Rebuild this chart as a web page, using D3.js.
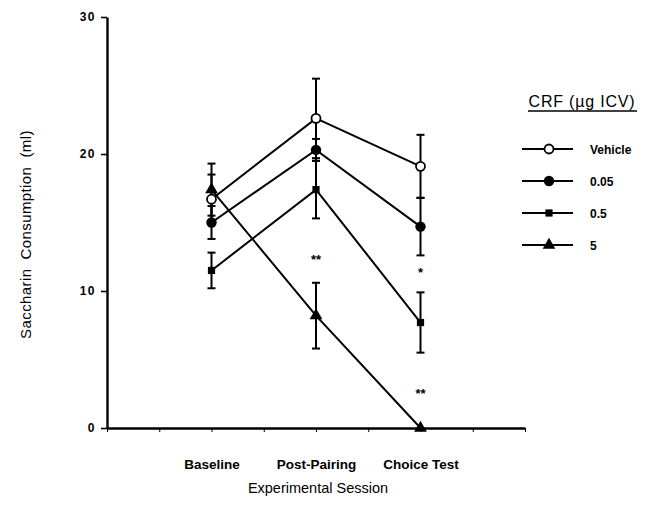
<!DOCTYPE html>
<html>
<head>
<meta charset="utf-8">
<script src="https://cdnjs.cloudflare.com/ajax/libs/d3/7.8.5/d3.min.js"></script>
<style>
  html, body { margin: 0; padding: 0; background: #fff; }
  svg { display: block; font-family: "Liberation Sans", Arial, Helvetica, sans-serif; }
</style>
</head>
<body>
<svg id="chart" width="646" height="524"></svg>
<script>
// ---- data ----
const sessions = ["Baseline", "Post-Pairing", "Choice Test"];
const sessionPos = [2, 4, 6];
const seriesNames = ["Vehicle", "0.05", "0.5", "5"];
const seriesShapes = ["openCircle", "circle", "square", "triangle"];
const vehicleMean = [16.7, 22.6, 19.1];
const vehicleErr = [1.8, 2.9, 2.3];
const dose005Mean = [15.0, 20.3, 14.7];
const dose005Err = [1.2, 0.8, 2.1];
const dose05Mean = [11.5, 17.4, 7.7];
const dose05Err = [1.3, 2.1, 2.2];
const dose5Mean = [17.4, 8.2, 0.0];
const dose5Err = [1.9, 2.4, 0.0];
const yTicks = [0, 10, 20, 30];
const xTicks = [0, 1, 2, 3, 4, 5, 6, 7, 8];
const sigMarks = [
  { pos: 4, value: 12.0, label: "**" },
  { pos: 6, value: 11.0, label: "*" },
  { pos: 6, value: 2.2, label: "**" }
];
const legendTitle = "CRF (\u00b5g ICV)";
const yTitle = "Saccharin  Consumption  (ml)";
const xTitle = "Experimental Session";

const series = [
  { name: seriesNames[0], shape: seriesShapes[0], mean: vehicleMean, err: vehicleErr },
  { name: seriesNames[1], shape: seriesShapes[1], mean: dose005Mean, err: dose005Err },
  { name: seriesNames[2], shape: seriesShapes[2], mean: dose05Mean, err: dose05Err },
  { name: seriesNames[3], shape: seriesShapes[3], mean: dose5Mean, err: dose5Err }
];

// ---- layout ----
const svg = d3.select("#chart");
svg.append("rect").attr("width", 646).attr("height", 524).attr("fill", "#fff");

const x = d3.scaleLinear().domain([0, 8]).range([107, 525]);
const y = d3.scaleLinear().domain([0, 30]).range([428, 17]);

// y axis
const yAxis = svg.append("g")
  .attr("transform", `translate(${x(0)},0)`)
  .call(d3.axisLeft(y).tickValues(yTicks).tickSize(6).tickPadding(5).tickSizeOuter(0));
yAxis.select(".domain").attr("stroke", "#000").attr("stroke-width", 2.4);
yAxis.selectAll(".tick line").attr("stroke", "#000").attr("stroke-width", 1.6);
yAxis.selectAll(".tick text")
  .attr("font-size", 12).attr("font-weight", "bold").attr("fill", "#000")
  .attr("letter-spacing", 1.5);

// x axis
const catLabel = d => { const i = sessionPos.indexOf(d); return i >= 0 ? sessions[i] : ""; };
const xAxis = svg.append("g")
  .attr("transform", `translate(0,${y(0)})`)
  .call(d3.axisBottom(x).tickValues(xTicks).tickFormat(catLabel).tickSize(4).tickPadding(27).tickSizeOuter(0));
xAxis.select(".domain").attr("stroke", "#000").attr("stroke-width", 2.4);
xAxis.selectAll(".tick line").attr("stroke", "#000").attr("stroke-width", 1);
xAxis.selectAll(".tick text")
  .attr("font-size", 13.5).attr("font-weight", "bold").attr("fill", "#000");

// axis titles
svg.append("text")
  .attr("transform", `translate(31,${(y(0) + y(30)) / 2 + 12}) rotate(-90)`)
  .attr("text-anchor", "middle")
  .attr("font-size", 15)
  .attr("letter-spacing", 0.4)
  .attr("fill", "#000")
  .style("white-space", "pre")
  .attr("xml:space", "preserve")
  .text(yTitle);

svg.append("text")
  .attr("x", 318).attr("y", 493)
  .attr("text-anchor", "middle")
  .attr("font-size", 14.5)
  .attr("fill", "#000")
  .text(xTitle);

// ---- marks ----
const line = d3.line().x(d => x(d.pos)).y(d => y(d.value));
const plot = svg.append("g");

series.forEach(s => {
  const pts = s.mean.map((v, i) => ({ pos: sessionPos[i], value: v, err: s.err[i] }));
  s.pts = pts;
  plot.append("path").datum(pts)
    .attr("d", line).attr("fill", "none").attr("stroke", "#000").attr("stroke-width", 2);
});

// error bars
series.forEach(s => {
  s.pts.forEach(p => {
    if (p.err <= 0) return;
    const g = plot.append("g").attr("stroke", "#000").attr("stroke-width", 2);
    g.append("line").attr("x1", x(p.pos)).attr("x2", x(p.pos))
      .attr("y1", y(p.value + p.err)).attr("y2", y(p.value - p.err));
    [p.value + p.err, p.value - p.err].forEach(v => {
      g.append("line").attr("x1", x(p.pos) - 4).attr("x2", x(p.pos) + 4)
        .attr("y1", y(v)).attr("y2", y(v));
    });
  });
});

function drawMarker(g, shape, cx, cy) {
  if (shape === "openCircle") {
    g.append("circle").attr("cx", cx).attr("cy", cy).attr("r", 4.5)
      .attr("fill", "#fff").attr("stroke", "#000").attr("stroke-width", 1.8);
  } else if (shape === "circle") {
    g.append("circle").attr("cx", cx).attr("cy", cy).attr("r", 5.2).attr("fill", "#000");
  } else if (shape === "square") {
    g.append("rect").attr("x", cx - 3.6).attr("y", cy - 3.6).attr("width", 7.2).attr("height", 7.2).attr("fill", "#000");
  } else if (shape === "triangle") {
    g.append("path").attr("d", d3.symbol(d3.symbolTriangle, 70)()).attr("transform", `translate(${cx},${cy})`).attr("fill", "#000");
  }
}

series.forEach(s => {
  s.pts.forEach(p => drawMarker(plot, s.shape, x(p.pos), y(p.value)));
});

// significance marks
plot.selectAll(".sig").data(sigMarks).enter().append("text")
  .attr("x", d => x(d.pos)).attr("y", d => y(d.value))
  .attr("text-anchor", "middle").attr("font-size", 13).attr("font-weight", "bold")
  .attr("fill", "#000").text(d => d.label);

// ---- legend ----
const leg = svg.append("g");
leg.append("text").attr("x", 582).attr("y", 107).attr("text-anchor", "middle")
  .attr("font-size", 16).attr("letter-spacing", 0.8).attr("fill", "#000").text(legendTitle);
leg.append("line").attr("x1", 528).attr("x2", 637).attr("y1", 111).attr("y2", 111)
  .attr("stroke", "#000").attr("stroke-width", 1.3);

const legY = d3.scalePoint().domain(seriesNames).range([149, 245]);
series.forEach(s => {
  const ly = legY(s.name);
  leg.append("line").attr("x1", 522).attr("x2", 573).attr("y1", ly).attr("y2", ly)
    .attr("stroke", "#000").attr("stroke-width", 2);
  drawMarker(leg, s.shape, 549, ly);
  leg.append("text").attr("x", 590).attr("y", ly + 4.5)
    .attr("font-size", 12).attr("font-weight", "bold").attr("fill", "#000").text(s.name);
});
</script>
</body>
</html>
